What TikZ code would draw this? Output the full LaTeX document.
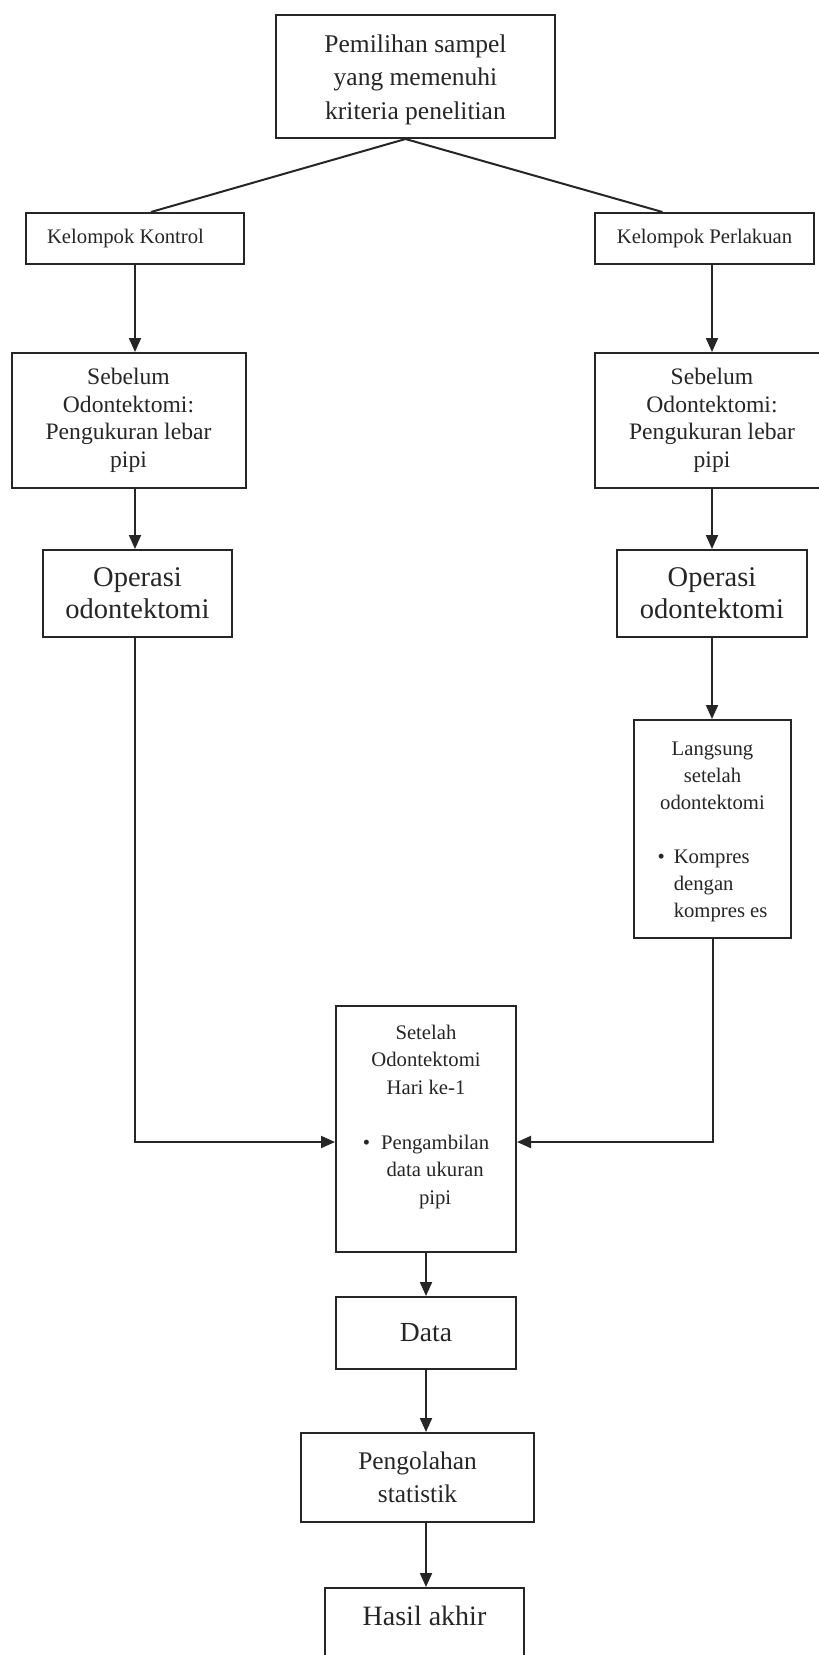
\documentclass[tikz,border=0pt]{standalone}
\usepackage{fontspec}
\setmainfont{Liberation Serif}
\usetikzlibrary{arrows.meta,calc}
\definecolor{ink}{HTML}{262626}
\newcommand{\fsz}[2]{\fontsize{#1pt}{#2pt}\selectfont}
\begin{document}
\begin{tikzpicture}[x=1pt,y=-1pt,
  box/.style={draw=ink, line width=2pt, inner sep=0pt, align=center, text=ink},
  arr/.style={draw=ink, line width=2pt, -{Triangle[length=14pt,width=12pt]}},
  ln/.style={draw=ink, line width=2pt}]
\useasboundingbox (0,0) rectangle (819,1655);
\fill[white] (0,0) rectangle (819,1655);

\node[box, minimum width=279pt, minimum height=123pt, font=\fsz{25.5}{33.5}] (top) at (415.5,76.5)
  {\rule{0pt}{24pt}Pemilihan sampel\\yang memenuhi\\kriteria penelitian};

\node[box, minimum width=218pt, minimum height=51pt, font=\fsz{20.7}{25}] (kontrol) at (135,238.5)
  {\hbox{Kelompok Kontrol\hspace{19pt}}};
\node[box, minimum width=219pt, minimum height=51pt, font=\fsz{20.7}{25}] (perlakuan) at (704.5,238.5)
  {Kelompok Perlakuan};

\node[box, minimum width=234pt, minimum height=135pt, font=\fsz{23.6}{27.5}] (sebL) at (128.5,420.5)
  {Sebelum\\Odontektomi:\\Pengukuran lebar\\pipi};
\node[box, minimum width=234pt, minimum height=135pt, font=\fsz{23.6}{27.5}] (sebR) at (712,420.5)
  {Sebelum\\Odontektomi:\\Pengukuran lebar\\pipi};

\node[box, minimum width=189pt, minimum height=87pt, font=\fsz{28.5}{32}] (opL) at (137.5,593.5)
  {Operasi\\odontektomi};
\node[box, minimum width=190pt, minimum height=87pt, font=\fsz{28.5}{32}] (opR) at (712,593.5)
  {Operasi\\odontektomi};

\node[box, minimum width=157pt, minimum height=218pt, font=\fsz{20.7}{27}] (lang) at (712.5,829)
  {\rule{0pt}{24pt}Langsung\\setelah\\odontektomi\\[27pt]\begin{tabular}[t]{@{}l@{\hspace{9pt}}l@{}}•&Kompres\\&dengan\\&kompres es\end{tabular}};

\node[box, minimum width=180pt, minimum height=246pt, font=\fsz{20.7}{27.5}] (setelah) at (426,1129)
  {Setelah\\Odontektomi\\Hari ke-1\\[27.5pt]\begin{tabular}[t]{@{}l@{\hspace{11pt}}c@{}}•&Pengambilan\\&data ukuran\\&pipi\rule[-29pt]{0pt}{1pt}\end{tabular}};

\node[box, minimum width=180pt, minimum height=72pt, font=\fsz{27.6}{32}] (data) at (426,1333) {Data};
\node[box, minimum width=233pt, minimum height=89pt, font=\fsz{25.4}{33}] (olah) at (417.5,1477.5)
  {Pengolahan\\statistik};
\node[box, minimum width=199pt, text height=37pt, text depth=93pt, font=\fsz{28}{32}] (hasil) at (424.5,1653)
  {Hasil akhir};

\coordinate (apex) at ($(top.south)+(-10,0)$);
\draw[ln] ($(kontrol.north)+(16,0)$) -- (apex) -- ($(perlakuan.north)+(-42,0)$);

\draw[arr] (kontrol.south) -- (kontrol.south |- sebL.north);
\draw[arr] (sebR.north |- perlakuan.south) -- (sebR.north);
\draw[arr] (sebL.south -| kontrol.south) -- (opL.north -| kontrol.south);
\draw[arr] (sebR.south) -- (opR.north);
\draw[arr] (opR.south) -- (lang.north -| opR.south);
\draw[arr] (opL.south -| kontrol.south) |- ($(setelah.west)+(0,13)$);
\draw[arr] (lang.south) |- ($(setelah.east)+(0,13)$);
\draw[arr] (setelah.south) -- (data.north);
\draw[arr] (data.south) -- (data.south |- olah.north);
\draw[arr] (data.south |- olah.south) -- (data.south |- hasil.north);
\end{tikzpicture}
\end{document}
